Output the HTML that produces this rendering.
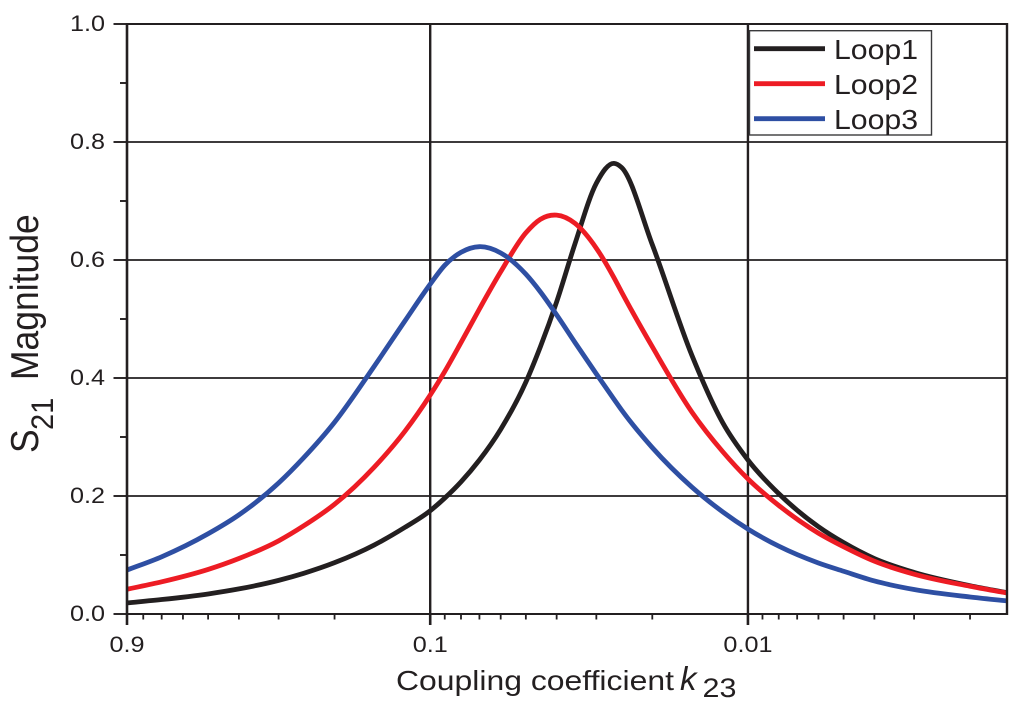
<!DOCTYPE html>
<html lang="en">
<head>
<meta charset="utf-8">
<title>S21 Magnitude vs Coupling coefficient</title>
<style>
html,body{margin:0;padding:0;background:#fff;width:1024px;height:711px;overflow:hidden}
svg{display:block}
text{font-family:"Liberation Sans",sans-serif;fill:#231f20}
</style>
</head>
<body>
<svg id="chart" xmlns="http://www.w3.org/2000/svg" width="1024" height="711" viewBox="0 0 1024 711">
  <rect x="0" y="0" width="1024" height="711" fill="#fff"/>
  <g id="grid"></g>
  <g id="series"></g>
  <g id="axes"></g>
  <g>
    <rect x="749.5" y="30.7" width="182" height="104.3" fill="#fff" stroke="#3a3a3c" stroke-width="1.4"/>
    <line x1="754" x2="825" y1="48.7" y2="48.7" stroke="#231f20" stroke-width="4.8"/>
    <text font-size="28" transform="translate(834,59) scale(1.08,1)">Loop1</text>
    <line x1="754" x2="825" y1="83.7" y2="83.7" stroke="#ed1c24" stroke-width="4.8"/>
    <text font-size="28" transform="translate(834,94) scale(1.08,1)">Loop2</text>
    <line x1="754" x2="825" y1="118.7" y2="118.7" stroke="#2e4fa3" stroke-width="4.8"/>
    <text font-size="28" transform="translate(834,129) scale(1.08,1)">Loop3</text>
  </g>
  <text font-size="28" transform="translate(396,690) scale(1.14,1)">Coupling coefficient</text>
  <text font-size="33" font-style="italic" transform="translate(680,690)">k</text>
  <text font-size="27" transform="translate(702.5,697) scale(1.13,1)">23</text>
  <text font-size="35.5" transform="translate(38,453) rotate(-90) scale(1,1.1)">S</text>
  <text font-size="29" transform="translate(53,430) rotate(-90) scale(1,1.1)">21</text>
  <text font-size="35.5" transform="translate(38,380) rotate(-90) scale(1,1.1)">Magnitude</text>
</svg>
<script>
const couplings = [0.9,0.7,0.5,0.4,0.3,0.25,0.2,0.15,0.12,0.1,0.09,0.08,0.07,0.06,0.05,0.045,0.04,0.035,0.03,0.0264,0.025,0.02,0.015,0.012,0.01,0.008,0.006,0.005,0.004,0.003,0.002,0.00153];
const loop1 = [0.0188,0.0245,0.034,0.0425,0.057,0.069,0.087,0.117,0.147,0.175,0.1965,0.224,0.261,0.313,0.393,0.453,0.529,0.628,0.73,0.7638,0.757,0.626,0.438,0.324,0.261,0.204,0.148,0.121,0.094,0.0705,0.048,0.0362];
const loop2 = [0.042,0.0545,0.0755,0.094,0.124,0.1495,0.186,0.249,0.31,0.371,0.411,0.46,0.517,0.58,0.646,0.669,0.676,0.662,0.62,0.57,0.546,0.453,0.342,0.275,0.229,0.184,0.137,0.114,0.0895,0.0675,0.047,0.0355];
const loop3 = [0.0745,0.097,0.136,0.168,0.222,0.265,0.325,0.42,0.497,0.559,0.591,0.613,0.6226,0.612,0.576,0.546,0.507,0.46,0.407,0.364,0.346,0.282,0.215,0.173,0.144,0.115,0.0865,0.0725,0.056,0.0415,0.0288,0.0222];
const yMajorTicks = [0,0.2,0.4,0.6,0.8,1.0];
const yMinorTicks = [0.1,0.3,0.5,0.7,0.9];
const xMajorTicks = [0.9,0.1,0.01];
const xMajorLabels = ["0.9","0.1","0.01"];
const xMinorTicks = [0.8,0.7,0.6,0.5,0.4,0.3,0.2,0.09,0.08,0.07,0.06,0.05,0.04,0.03,0.02,0.009,0.008,0.007,0.006,0.005,0.004,0.003,0.002];
const xDomain = [0.9,0.00153];
const yDomain = [0,1];

const plot = {left:127,right:1007,top:24,bottom:614};
const NS = 'http://www.w3.org/2000/svg';
const ink = '#231f20';

function xScale(k){
  const a = Math.log10(xDomain[0]), b = Math.log10(xDomain[1]);
  return plot.left + (Math.log10(k)-a)/(b-a)*(plot.right-plot.left);
}
function yScale(v){
  return plot.bottom - (v-yDomain[0])/(yDomain[1]-yDomain[0])*(plot.bottom-plot.top);
}
function segment(parent,x1,y1,x2,y2,width){
  const el = document.createElementNS(NS,'line');
  el.setAttribute('x1',x1);
  el.setAttribute('y1',y1);
  el.setAttribute('x2',x2);
  el.setAttribute('y2',y2);
  el.setAttribute('stroke',ink);
  el.setAttribute('stroke-width',width);
  parent.appendChild(el);
  return el;
}
function smoothPath(xs,ys){
  const pts = xs.map(function(k,i){return [xScale(k),yScale(ys[i])];});
  const n = pts.length;
  const slopes = pts.map(function(p,i){
    if(i===0) return (pts[1][1]-p[1])/(pts[1][0]-p[0]);
    if(i===n-1) return (p[1]-pts[n-2][1])/(p[0]-pts[n-2][0]);
    const h0 = p[0]-pts[i-1][0], h1 = pts[i+1][0]-p[0];
    const d0 = (p[1]-pts[i-1][1])/h0, d1 = (pts[i+1][1]-p[1])/h1;
    return (h1*d0+h0*d1)/(h0+h1);
  });
  let d = 'M'+pts[0][0].toFixed(2)+' '+pts[0][1].toFixed(2);
  for(let i=0;i<n-1;i++){
    const h = (pts[i+1][0]-pts[i][0])/3;
    d += 'C'+(pts[i][0]+h).toFixed(2)+' '+(pts[i][1]+slopes[i]*h).toFixed(2)+' '+(pts[i+1][0]-h).toFixed(2)+' '+(pts[i+1][1]-slopes[i+1]*h).toFixed(2)+' '+pts[i+1][0].toFixed(2)+' '+pts[i+1][1].toFixed(2);
  }
  return d;
}

const grid = document.getElementById('grid');
const axes = document.getElementById('axes');
const series = document.getElementById('series');

yMajorTicks.forEach(function(v){
  if(v===0||v===1) return;
  const el = segment(grid,plot.left,yScale(v),plot.right,yScale(v),1.8);
  
  
});
xMajorTicks.forEach(function(k){
  if(k===xDomain[0]) return;
  const el = segment(grid,xScale(k),plot.top,xScale(k),plot.bottom,2.4);
  
  
});

function drawSeries(values,color,name){
  const el = document.createElementNS(NS,'path');
  el.setAttribute('d',smoothPath(couplings,values));
  el.setAttribute('fill','none');
  el.setAttribute('stroke',color);
  el.setAttribute('stroke-width','4.8');
  el.setAttribute('stroke-linejoin','round');
  
  
  series.appendChild(el);
}
drawSeries(loop1,'#231f20','line-loop1');
drawSeries(loop2,'#ed1c24','line-loop2');
drawSeries(loop3,'#2e4fa3','line-loop3');

const leftSpine = segment(axes,plot.left,plot.top-1,plot.left,plot.bottom+1,2.6);


const rightSpine = segment(axes,plot.right,plot.top-1,plot.right,plot.bottom+1,2.4);


const topSpine = segment(axes,plot.left,plot.top,plot.right,plot.top,1.9);


const bottomSpine = segment(axes,plot.left,plot.bottom,plot.right,plot.bottom,1.9);



yMajorTicks.forEach(function(v){
  const t = segment(axes,113.5,yScale(v),plot.left,yScale(v),1.9);
  
  
  const label = document.createElementNS(NS,'text');
  label.setAttribute('font-size','22.5');
  label.setAttribute('text-anchor','end');
  label.setAttribute('transform','translate(105,'+(yScale(v)+7)+') scale(1.12,1)');
  label.textContent = v.toFixed(1);
  
  
  axes.appendChild(label);
});
yMinorTicks.forEach(function(v){
  const t = segment(axes,120,yScale(v),plot.left,yScale(v),1.9);
  
  
});
xMajorTicks.forEach(function(k,i){
  const t = segment(axes,xScale(k),plot.bottom,xScale(k),625,2.6);
  
  
  const label = document.createElementNS(NS,'text');
  label.setAttribute('font-size','22.5');
  label.setAttribute('text-anchor','middle');
  label.setAttribute('transform','translate('+xScale(k)+',651.8) scale(1.12,1)');
  label.textContent = xMajorLabels[i];
  
  
  axes.appendChild(label);
});
xMinorTicks.forEach(function(k){
  const t = segment(axes,xScale(k),plot.bottom,xScale(k),619.5,1.8);
  
  
});
</script>
</body>
</html>
